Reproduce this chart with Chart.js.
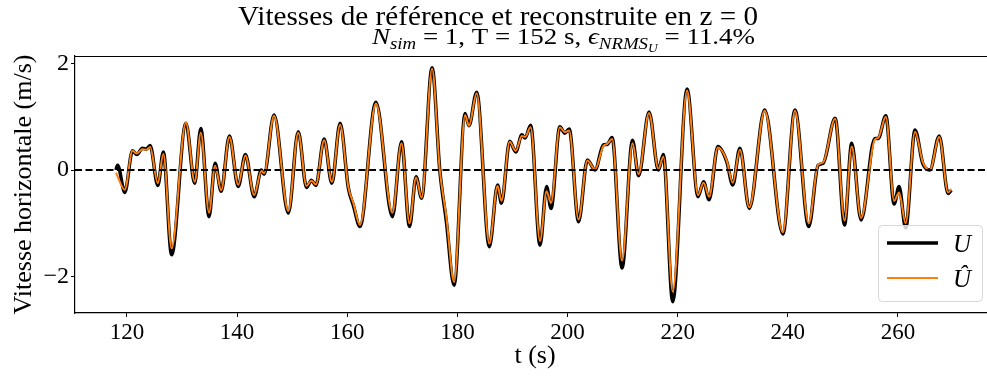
<!DOCTYPE html>
<html>
<head>
<meta charset="utf-8">
<script src="https://cdn.jsdelivr.net/npm/chart.js@4.4.1/dist/chart.umd.min.js"></script>
<style>
  html, body { margin: 0; padding: 0; background: #fff; }
  #wrap { width: 987px; height: 379px; }
</style>
</head>
<body>
<div id="wrap"><canvas id="chart" width="987" height="379"></canvas></div>
<script>
// reference velocity U (time in s, value in m/s), taken at its turning points
const tU = [118.0, 118.3, 119.6, 121.0, 121.8, 122.8, 123.5, 124.2, 125.6, 126.6,
  128.1, 130.7, 132.3, 133.4, 134.9, 136.0, 137.1, 138.6, 140.2, 141.5,
  143.1, 144.4, 144.9, 146.7, 149.3, 151.1, 152.6, 153.5, 154.3, 155.8,
  157.2, 158.7, 160.2, 161.1, 162.3, 165.2, 168.2, 169.85, 171.3, 172.5,
  173.5, 175.4, 176.8, 178.0, 179.4, 181.4, 182.1, 183.5, 185.8, 187.3,
  188.0, 189.5, 190.6, 191.7, 192.3, 193.3, 195.0, 196.2, 197.0, 198.6,
  199.5, 200.3, 202.0, 203.6, 205.0, 206.5, 207.2, 208.1, 209.9, 211.8,
  212.9, 214.8, 216.5, 217.4, 219.1, 221.7, 223.7, 224.7, 225.7, 227.3,
  228.9, 230.0, 231.3, 233.0, 235.8, 239.1, 241.3, 243.8, 245.5, 246.4,
  248.6, 250.3, 251.6, 253.3, 255.8, 256.4, 257.8, 259.3, 260.2, 261.4,
  263.1, 264.5, 265.8, 267.5, 269.1, 269.7];
const U = [0.0, 0.09, -0.42, 0.36, 0.29, 0.41, 0.39, 0.46, -0.29, 0.34,
  -1.59, 0.875, -0.25, 0.78, -0.875, 0.125, -0.40, 0.64, -0.31, 0.29,
  -0.50, 0.0, -0.08, 1.03, -0.81, 0.72, -0.33, -0.19, -0.29, 0.58,
  -0.25, 0.875, -0.34, -0.66, -1.06, 1.27, -0.875, 0.53, -1.06, -0.125,
  -0.53, 1.92, 0.0, -0.97, -2.16, 1.06, 0.83, 1.46, -1.44, -0.28,
  -0.625, 0.54, 0.34, 0.66, 0.60, 0.84, -1.41, -0.31, -0.72, 0.81,
  0.69, 0.77, -0.97, 0.19, 0.0, 0.47, 0.48, 0.61, -1.84, 0.56,
  -0.11, 1.09, 0.0, 0.29, -2.47, 1.52, -0.50, -0.22, -0.56, 0.44,
  0.16, -0.28, 0.41, -0.72, 1.125, -1.20, 1.125, -1.06, 0.09, 0.125,
  0.97, -1.03, 0.50, -0.94, 0.59, 0.59, 1.02, -0.64, -0.31, -1.09,
  0.75, 0.125, 0.0, 0.64, -0.44, -0.375];

// reconstructed velocity Uhat
const tUhat = [118.0, 119.6, 121.0, 121.8, 122.8, 123.5, 124.2, 125.6, 126.6,
  128.1, 130.7, 132.3, 133.4, 134.9, 136.0, 137.1, 138.6, 140.2, 141.5,
  143.1, 144.4, 144.9, 146.7, 149.3, 151.1, 152.6, 153.5, 154.3, 155.8,
  157.2, 158.7, 160.2, 161.1, 162.3, 165.2, 168.2, 169.85, 171.3, 172.5,
  173.5, 175.4, 176.8, 178.0, 179.4, 181.4, 182.1, 183.5, 185.8, 187.3,
  188.0, 189.5, 190.6, 191.7, 192.3, 193.3, 195.0, 196.2, 197.0, 198.6,
  199.5, 200.3, 202.0, 203.6, 205.0, 206.5, 207.2, 208.1, 209.9, 211.8,
  212.9, 214.8, 216.5, 217.4, 219.1, 221.7, 223.7, 224.7, 225.7, 227.3,
  228.9, 230.0, 231.3, 233.0, 235.8, 239.1, 241.3, 243.8, 245.5, 246.4,
  248.6, 250.3, 251.6, 253.3, 255.8, 256.4, 257.8, 259.3, 260.2, 261.4,
  263.1, 264.5, 265.8, 267.5, 269.1, 269.7];
const Uhat = [-0.05, -0.37, 0.36, 0.31, 0.39, 0.38, 0.43, -0.25, 0.30,
  -1.47, 0.89, -0.22, 0.70, -0.80, 0.08, -0.38, 0.62, -0.28, 0.27,
  -0.47, -0.02, -0.06, 1.02, -0.77, 0.70, -0.30, -0.20, -0.27, 0.56,
  -0.22, 0.85, -0.32, -0.62, -1.03, 1.25, -0.80, 0.50, -1.00, -0.14,
  -0.52, 1.90, 0.0, -0.88, -2.10, 1.03, 0.83, 1.44, -1.38, -0.30,
  -0.58, 0.53, 0.36, 0.64, 0.62, 0.80, -1.33, -0.40, -0.62, 0.80,
  0.71, 0.74, -0.93, 0.18, 0.01, 0.45, 0.49, 0.58, -1.70, 0.50,
  -0.08, 1.07, 0.02, 0.25, -2.28, 1.49, -0.47, -0.24, -0.50, 0.42,
  0.18, -0.24, 0.38, -0.70, 1.11, -1.17, 1.11, -1.00, 0.10, 0.14,
  0.96, -0.95, 0.44, -0.90, 0.57, 0.60, 1.00, -0.58, -0.42, -1.00,
  0.72, 0.15, 0.0, 0.62, -0.42, -0.36];

const xTicks = [120, 140, 160, 180, 200, 220, 240, 260];
const yTicks = [-2, 0, 2];
const xRange = [110.56, 276.17];
const yRange = [-2.683, 2.139];

const SERIF = '"Liberation Serif", "DejaVu Serif", serif';
const ORANGE = '#ff7f0e';

function toPoints(xs, ys) {
  return xs.map(function(x, i) { return { x: x, y: ys[i] }; });
}

// a run is a piece of text with its own style: italic, relative size, baseline shift
function fontOf(r, size) {
  return (r.italic ? 'italic ' : '') + (size * (r.scale || 1)).toFixed(2) + 'px ' + SERIF;
}
function runsWidth(ctx, runs, size) {
  let w = 0;
  runs.forEach(function(r) { ctx.font = fontOf(r, size); w += ctx.measureText(r.text).width; });
  return w;
}
// draws the runs from x at a given size, stretched sideways to span `width`
function drawRunsFit(ctx, runs, x, baseline, size, width) {
  const sx = width / runsWidth(ctx, runs, size);
  ctx.save();
  ctx.translate(x, baseline);
  ctx.scale(sx, 1);
  let cx = 0;
  runs.forEach(function(r) {
    ctx.font = fontOf(r, size);
    ctx.fillText(r.text, cx, (r.shift || 0) * size);
    cx += ctx.measureText(r.text).width;
  });
  ctx.restore();
}

const titleRuns = [{ text: 'Vitesses de référence et reconstruite en z = 0' }];
const subtitleRuns = [
  { text: 'N', italic: true },
  { text: 'sim', italic: true, scale: 0.7, shift: 0.2 },
  { text: ' = 1, T = 152 s, ' },
  { text: 'ϵ', italic: true },
  { text: 'NRMS', italic: true, scale: 0.7, shift: 0.2 },
  { text: 'U', italic: true, scale: 0.5, shift: 0.34 },
  { text: ' = 11.4%' }
];

const decorations = {
  id: 'decorations',
  afterDatasetsDraw: function(chart) {
    const ctx = chart.ctx;
    const a = chart.chartArea;
    ctx.save();
    // top spine
    ctx.strokeStyle = '#000';
    ctx.lineWidth = 1.2;
    ctx.beginPath();
    ctx.moveTo(a.left, a.top + 0.5);
    ctx.lineTo(a.right, a.top + 0.5);
    ctx.stroke();

    // legend box, lower right
    const bx = 878, by = 225, bw = 104, bh = 76;
    ctx.beginPath();
    ctx.roundRect(bx + 0.5, by + 0.5, bw, bh, 4);
    ctx.fillStyle = 'rgba(255,255,255,0.8)';
    ctx.fill();
    ctx.strokeStyle = '#d6d6d6';
    ctx.lineWidth = 1;
    ctx.stroke();

    ctx.lineCap = 'butt';
    ctx.strokeStyle = '#000';
    ctx.lineWidth = 3.5;
    ctx.beginPath(); ctx.moveTo(887, 243); ctx.lineTo(938, 243); ctx.stroke();
    ctx.strokeStyle = ORANGE;
    ctx.lineWidth = 2;
    ctx.beginPath(); ctx.moveTo(887, 278); ctx.lineTo(938, 278); ctx.stroke();

    ctx.fillStyle = '#000';
    ctx.textBaseline = 'alphabetic';
    ctx.textAlign = 'left';
    ctx.font = 'italic 25px ' + SERIF;
    ctx.fillText('U', 953, 252);
    ctx.fillText('Û', 953, 287);
    ctx.restore();
  },
  afterDraw: function(chart) {
    const ctx = chart.ctx;
    const a = chart.chartArea;
    ctx.save();
    ctx.fillStyle = '#000';
    ctx.textBaseline = 'alphabetic';
    ctx.textAlign = 'left';
    drawRunsFit(ctx, titleRuns, 238, 25, 27, 520);
    drawRunsFit(ctx, subtitleRuns, 372, 44, 24, 383);

    // axis titles
    ctx.textAlign = 'center';
    ctx.font = '26px ' + SERIF;
    ctx.fillText('t (s)', 535, 363);
    ctx.translate(31, (a.top + a.bottom) / 2);
    ctx.rotate(-Math.PI / 2);
    ctx.fillText('Vitesse horizontale (m/s)', 0, 0);
    ctx.restore();
  }
};

new Chart(document.getElementById('chart'), {
  type: 'line',
  data: {
    datasets: [
      {
        label: 'zero',
        data: [{ x: xRange[0], y: 0 }, { x: xRange[1], y: 0 }],
        borderColor: '#000',
        borderWidth: 2,
        borderDash: [7, 3.5],
        pointRadius: 0,
        order: 0
      },
      {
        label: 'Uhat',
        data: toPoints(tUhat, Uhat),
        borderColor: ORANGE,
        borderWidth: 2,
        pointRadius: 0,
        cubicInterpolationMode: 'monotone',
        order: 1
      },
      {
        label: 'U',
        data: toPoints(tU, U),
        borderColor: '#000',
        borderWidth: 3.5,
        pointRadius: 0,
        cubicInterpolationMode: 'monotone',
        order: 2
      }
    ]
  },
  options: {
    responsive: false,
    animation: false,
    devicePixelRatio: 1,
    layout: { padding: { top: 56, right: 0, left: 0, bottom: 0 } },
    plugins: {
      legend: { display: false },
      tooltip: { enabled: false },
      title: { display: false }
    },
    scales: {
      x: {
        type: 'linear',
        min: xRange[0],
        max: xRange[1],
        afterBuildTicks: function(scale) {
          scale.ticks = xTicks.map(function(v) { return { value: v }; });
        },
        afterFit: function(scale) { scale.height = 66; },
        ticks: {
          color: '#000',
          font: { family: SERIF, size: 23 },
          padding: 2,
          maxRotation: 0,
          autoSkip: false
        },
        grid: { drawOnChartArea: false, drawTicks: true, tickLength: 4, color: '#000', tickWidth: 1 },
        border: { display: true, color: '#000', width: 1.2 }
      },
      y: {
        type: 'linear',
        min: yRange[0],
        max: yRange[1],
        afterBuildTicks: function(scale) {
          scale.ticks = yTicks.map(function(v) { return { value: v }; });
        },
        afterFit: function(scale) { scale.width = 75; },
        ticks: {
          color: '#000',
          font: { family: SERIF, size: 24 },
          padding: 2,
          callback: function(v) { return v < 0 ? '\u2212' + Math.abs(v) : String(v); }
        },
        grid: { drawOnChartArea: false, drawTicks: true, tickLength: 4, color: '#000', tickWidth: 1 },
        border: { display: true, color: '#000', width: 1.2 }
      }
    }
  },
  plugins: [decorations]
});
</script>
</body>
</html>
